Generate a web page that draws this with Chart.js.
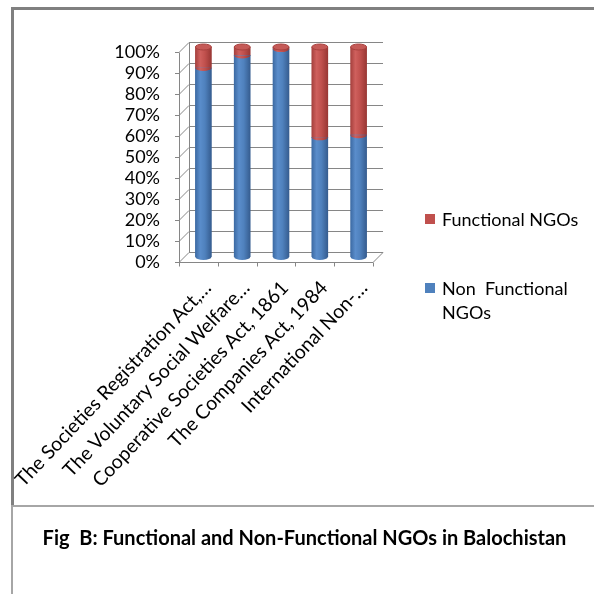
<!DOCTYPE html>
<html><head><meta charset="utf-8">
<script src="https://cdn.jsdelivr.net/npm/chart.js@4/dist/chart.umd.min.js"></script>
<style>
html,body{margin:0;padding:0;background:#fff;width:594px;height:594px;overflow:hidden;}
#wrap{position:relative;width:594px;height:594px;font-family:Lato,"Open Sans",sans-serif;color:#000;}
canvas{position:absolute;left:0;top:0;}
.ln{position:absolute;}
.lg{position:absolute;font-size:18px;line-height:24px;white-space:nowrap;}
.sw{position:absolute;width:10px;height:10px;}
.xl{position:absolute;font-size:19.5px;line-height:20px;white-space:nowrap;transform-origin:100% 50%;transform:rotate(-46.5deg);}
#title{position:absolute;left:0;width:609px;top:524px;line-height:26px;text-align:center;font-weight:bold;font-size:20px;white-space:pre;}
</style></head><body>
<div id="wrap">
<canvas id="c" width="594" height="594"></canvas>
<div class="ln" style="left:11px;top:7px;width:583px;height:3px;background:#808080"></div>
<div class="ln" style="left:11px;top:7px;width:3px;height:498px;background:#808080"></div>
<div class="ln" style="left:11px;top:505px;width:583px;height:2px;background:#a6a6a6"></div>
<div class="ln" style="left:11px;top:505px;width:2px;height:89px;background:#a6a6a6"></div>
<div class="sw" id="sw1" style="left:425px;top:214px;"></div>
<div class="lg" id="lg1" style="left:442px;top:207px;"></div>
<div class="sw" id="sw2" style="left:425px;top:283px;"></div>
<div class="lg" id="lg2" style="left:442px;top:276px;"></div>
<div id="title">Fig  B: Functional and Non-Functional NGOs in Balochistan</div>
</div>
<script>
const categories = ["The Societies Registration Act,\u2026", "The Voluntary Social Welfare\u2026", "Cooperative Societies Act, 1861", "The Companies Act, 1984", "International Non-\u2026"];
const nonFunctional = [90, 96, 99, 57, 58];
const functional = [10, 4, 1, 43, 42];
const yTicks = [0, 10, 20, 30, 40, 50, 60, 70, 80, 90, 100];
const seriesNames = ["Non Functional NGOs", "Functional NGOs"];

const BLUE = "#4f81bd", RED = "#c0504d";
document.getElementById("sw1").style.background = RED;
document.getElementById("sw2").style.background = BLUE;
document.getElementById("lg1").textContent = seriesNames[1];
document.getElementById("lg2").innerHTML = "Non&nbsp; Functional<br>NGOs";

const D = 5; // depth offset
function cylGrad(stops, fallback) {
  return function (ctx) {
    const ch = ctx.chart;
    if (!ch.chartArea || !ch.scales.x) return fallback;
    const cx = ch.scales.x.getPixelForValue(ctx.dataIndex);
    const g = ch.ctx.createLinearGradient(cx - 8, 0, cx + 8, 0);
    stops.forEach(s => g.addColorStop(s[0], s[1]));
    return g;
  };
}
const blueStops = [[0, "#3d6ba4"], [0.3, "#5a8dcb"], [0.6, "#4f81bd"], [1, "#365d90"]];
const redStops = [[0, "#a6413e"], [0.3, "#cf605d"], [0.6, "#c0504d"], [1, "#993734"]];

const depthPlugin = {
  id: "depth",
  beforeDatasetsDraw(chart) {
    const { ctx, chartArea } = chart;
    const { left, right } = chartArea;
    const y = chart.scales.y, x = chart.scales.x;
    ctx.save();
    ctx.strokeStyle = "#868686";
    ctx.lineWidth = 1;
    const L = (x1, y1, x2, y2) => { ctx.beginPath(); ctx.moveTo(x1, y1); ctx.lineTo(x2, y2); ctx.stroke(); };
    yTicks.forEach(v => {
      const py = Math.round(y.getPixelForValue(v)) + 0.5;
      L(left + D, py - D, right + D, py - D);
      L(left - D, py + D, left + D, py - D);
      L(left - D - 4, py + D, left - D, py + D);
    });
    const t = Math.round(y.getPixelForValue(100)) + 0.5, b = Math.round(y.getPixelForValue(0)) + 0.5;
    L(Math.round(left + D) + 0.5, t - D, Math.round(left + D) + 0.5, b - D);
    L(Math.round(left - D) + 0.5, t + D, Math.round(left - D) + 0.5, b + D);
    L(left - D, b + D, right - D, b + D);
    L(right - D, b + D, right + D, b - D);
    for (let i = 0; i <= categories.length; i++) {
      const px = Math.round(x.getPixelForValue(i - 0.5) - D) + 0.5;
      L(px, b + D, px, b + D + 4);
    }
    ctx.restore();
  },
  afterDatasetsDraw(chart) {
    const ctx = chart.ctx;
    const mb = chart.getDatasetMeta(0), mr = chart.getDatasetMeta(1);
    ctx.save();
    mb.data.forEach(bar => {
      const rx = bar.width / 2, ry = 3;
      ctx.fillStyle = bar.options.backgroundColor;
      ctx.beginPath(); ctx.ellipse(bar.x, bar.base, rx, ry, 0, 0, Math.PI); ctx.fill();
    });
    mr.data.forEach(bar => {
      const rx = bar.width / 2, ry = 3;
      ctx.fillStyle = bar.options.backgroundColor;
      ctx.beginPath(); ctx.ellipse(bar.x, bar.base, rx, ry, 0, 0, Math.PI); ctx.fill();
      ctx.fillStyle = "#c55a57";
      ctx.strokeStyle = "#a8413e";
      ctx.lineWidth = 1;
      ctx.beginPath(); ctx.ellipse(bar.x, bar.y, rx, ry, 0, 0, Math.PI * 2); ctx.fill(); ctx.stroke();
    });
    ctx.restore();
  }
};

const chart = new Chart(document.getElementById("c"), {
  type: "bar",
  data: {
    labels: categories,
    datasets: [
      { label: seriesNames[0], data: nonFunctional, backgroundColor: cylGrad(blueStops, BLUE), borderWidth: 0, barThickness: 16 },
      { label: seriesNames[1], data: functional, backgroundColor: cylGrad(redStops, RED), borderWidth: 0, barThickness: 16 }
    ]
  },
  options: {
    responsive: false,
    animation: false,
    devicePixelRatio: 1,
    layout: { padding: { left: 0, top: 47, right: 216, bottom: 0 } },
    plugins: { legend: { display: false }, tooltip: { enabled: false } },
    scales: {
      x: {
        stacked: true,
        grid: { display: false, drawTicks: false },
        border: { display: false },
        ticks: { display: false },
        afterFit: s => { s.height = 337; }
      },
      y: {
        stacked: true, min: 0, max: 100,
        grid: { display: false, drawTicks: false },
        border: { display: false },
        afterBuildTicks: s => { s.ticks = yTicks.map(v => ({ value: v })); },
        ticks: { color: "#000", font: { family: "Lato", size: 18 }, padding: 24, labelOffset: 5, autoSkip: false, callback: v => v + "%" },
        afterFit: s => { s.width = 184; }
      }
    }
  },
  plugins: [depthPlugin]
});

// category labels, rotated, anchored at the category positions of the x scale
const wrap = document.getElementById("wrap");
const xs = chart.scales.x;
categories.forEach((c, i) => {
  const d = document.createElement("div");
  d.className = "xl";
  d.textContent = c;
  wrap.appendChild(d);
  const w = d.offsetWidth;
  const ax = xs.getPixelForValue(i) - D + 9;
  const ay = chart.chartArea.bottom + D + 22;
  d.style.left = (ax - w) + "px";
  d.style.top = (ay - 10) + "px";
});
</script>
</body></html>
